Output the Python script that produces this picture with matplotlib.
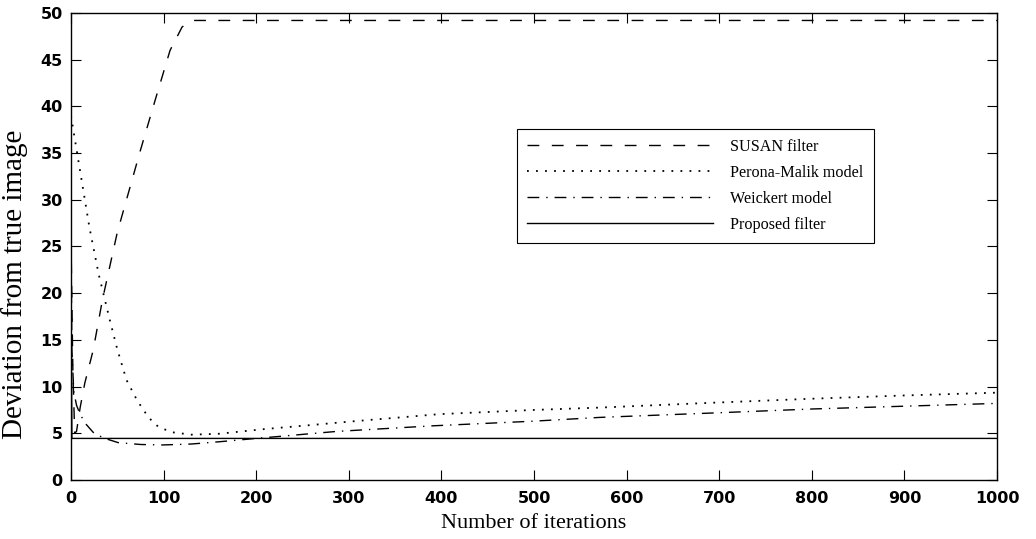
import matplotlib
matplotlib.use("Agg")
import matplotlib.pyplot as plt

# SUSAN filter (dashed)
susan_x = [0, 2, 4, 6, 8, 10, 15, 24, 34, 50, 75, 91, 107, 120, 130, 140, 1000]
susan_y = [26, 12, 5.0, 5.2, 6.5, 7.8, 10.4, 13.9, 19.3, 26.5, 35.3, 40.7, 46.0, 48.5, 49.2, 49.2, 49.2]

# Perona-Malik model (dotted)
pm_x = [0, 10, 20, 30, 42, 50, 60, 70, 78, 89, 96, 110, 130, 160, 209, 250, 301, 398, 500, 571, 700, 800, 900, 1000]
pm_y = [39, 33, 27, 22, 17.1, 14.0, 10.7, 8.8, 7.5, 6.1, 5.6, 5.1, 4.85, 4.95, 5.45, 5.8, 6.25, 7.05, 7.5, 7.75, 8.3, 8.7, 9.05, 9.35]

# Weickert model (dash-dot)
wk_x = [0, 1, 3, 6, 10, 16, 24, 35, 51, 75, 99, 130, 161, 200, 229, 287, 391, 500, 571, 700, 800, 900, 1000]
wk_y = [26, 14, 9.5, 8.0, 7.0, 6.0, 5.1, 4.5, 4.0, 3.8, 3.75, 3.85, 4.1, 4.45, 4.7, 5.2, 5.8, 6.3, 6.7, 7.2, 7.6, 7.9, 8.2]

# Proposed filter (solid)
pr_x = [0, 1, 1000]
pr_y = [20, 4.45, 4.45]

xticks = list(range(0, 1001, 100))
yticks = list(range(0, 51, 5))

fig = plt.figure(figsize=(10.36, 5.39), dpi=100)
ax = fig.add_axes([0.0685, 0.1095, 0.8939, 0.8664])

lw = 1.0
ax.plot(susan_x, susan_y, color="black", lw=lw, linestyle=(0, (8.5, 9)), label="SUSAN filter")
ax.plot(pm_x, pm_y, color="black", lw=1.3, linestyle=(0, (1, 4)), label="Perona-Malik model")
ax.plot(wk_x, wk_y, color="black", lw=lw, linestyle=(0, (8.5, 5, 1, 5)), label="Weickert model")
ax.plot(pr_x, pr_y, color="black", lw=lw, linestyle="-", label="Proposed filter")

ax.set_xlim(0, 1000)
ax.set_ylim(0, 50)
ax.set_xticks(xticks)
ax.set_yticks(yticks)
ax.tick_params(direction="in", top=True, right=True, length=7, width=0.8,
               labelsize=11.5)
ax.tick_params(axis="x", pad=8)
ax.tick_params(axis="y", pad=6)
for lbl in ax.get_xticklabels() + ax.get_yticklabels():
    lbl.set_family("DejaVu Sans")
    lbl.set_weight("bold")
for s in ax.spines.values():
    s.set_linewidth(1.0)

ax.set_xlabel("Number of iterations", family="Liberation Serif", fontsize=16)
ax.xaxis.set_label_coords(0.5, -0.072)
ax.set_ylabel("Deviation from true image", family="Liberation Serif", fontsize=21)
ax.yaxis.set_label_coords(-0.046, 0.42)

leg = ax.legend(loc="upper left", bbox_to_anchor=(0.482, 0.752), frameon=True,
                fancybox=False, edgecolor="black", framealpha=1,
                prop={"family": "Liberation Serif", "size": 11.6},
                handlelength=11.5, handletextpad=1.1, labelspacing=0.62,
                borderpad=0.62, borderaxespad=0)
leg.get_frame().set_linewidth(0.8)

fig.savefig("out.png", dpi=100)
